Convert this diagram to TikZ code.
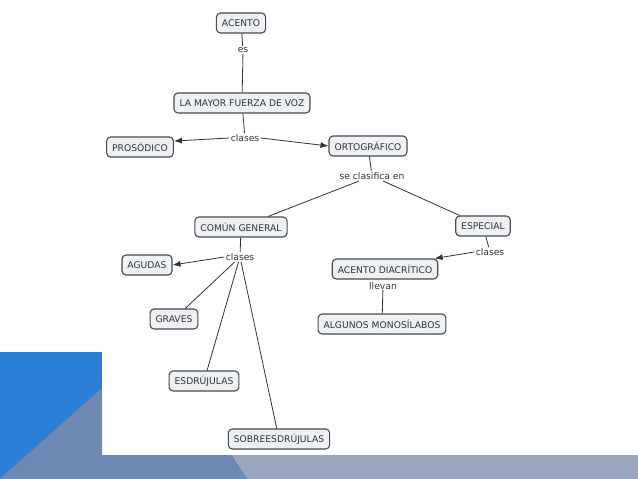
\documentclass[tikz,border=0pt]{standalone}
\usepackage{fontspec}
\setmainfont{DejaVu Sans}
\usetikzlibrary{arrows.meta}
\definecolor{boxfill}{HTML}{EEF2F6}
\definecolor{boxdraw}{HTML}{4A4A4A}
\definecolor{linecol}{HTML}{333333}
\definecolor{bgblue}{HTML}{2B7FD6}
\definecolor{bgdark}{HTML}{6E8AB4}
\definecolor{bglight}{HTML}{9AA5BF}
\tikzset{
  concept/.style={draw=boxdraw, line width=1.1pt, fill=boxfill, rounded corners=4pt,
    inner xsep=5.5pt, inner ysep=0pt, minimum height=20pt, font=\fontsize{9.2}{11}\selectfont, text=black!80},
  linklabel/.style={inner sep=1.2pt, font=\fontsize{9.2}{11}\selectfont, text=black!80},
  conn/.style={draw=linecol, line width=0.8pt},
  arr/.style={conn, -{Latex[length=8pt,width=6pt]}}
}
\begin{document}
\begin{tikzpicture}[x=1pt,y=-1pt]
\useasboundingbox (0,0) rectangle (638,479);
% background decoration
\fill[bgblue] (0,352) rectangle (102,479);
\fill[bgdark] (0,479) -- (102,388) -- (102,455) -- (232,455) -- (248,479) -- cycle;
\fill[bglight] (232,455) -- (638,455) -- (638,479) -- (248,479) -- cycle;

% nodes
\node[concept] (acento) at (241,23) {ACENTO};
\node[linklabel] (es) at (243,50) {es};
\node[concept] (mayor) at (242,103) {LA MAYOR FUERZA DE VOZ};
\node[linklabel] (clases1) at (245,138) {clases};
\node[concept] (pros) at (140,147) {PROSÓDICO};
\node[concept] (orto) at (368,146) {ORTOGRÁFICO};
\node[linklabel] (secl) at (372,176) {se clasifica en};
\node[concept] (comun) at (241,227) {COMÚN GENERAL};
\node[concept] (especial) at (483,226) {ESPECIAL};
\node[linklabel] (clases2) at (240,257) {clases};
\node[concept] (agudas) at (147,265) {AGUDAS};
\node[concept] (graves) at (174,319) {GRAVES};
\node[concept] (esdr) at (204,381) {ESDRÚJULAS};
\node[concept] (sobre) at (279,439) {SOBREESDRÚJULAS};
\node[linklabel] (clases3) at (490,252) {clases};
\node[concept] (diacr) at (385,269) {ACENTO DIACRÍTICO};
\node[linklabel, inner sep=0.3pt] (llevan) at (383,286) {llevan};
\node[concept] (mono) at (382,324) {ALGUNOS MONOSÍLABOS};

% connectors
\draw[conn] (acento) -- (es);
\draw[conn] (es) -- (mayor);
\draw[conn] (mayor) -- (clases1);
\draw[arr] (clases1.west) -- (pros.10);
\draw[arr] (clases1.east) -- (orto.west);
\draw[conn] (orto) -- (secl);
\draw[conn] (secl) -- (comun);
\draw[conn] (secl) -- (especial);
\draw[conn] (comun) -- (clases2);
\draw[arr] (clases2.west) -- (agudas.east);
\draw[conn] (clases2) -- (graves);
\draw[conn] (clases2) -- (esdr);
\draw[conn] (clases2) -- (sobre);
\draw[conn] (especial) -- (clases3);
\draw[arr] (clases3.west) -- (diacr.12);
\draw[conn] (llevan) -- (mono);
\end{tikzpicture}
\end{document}
